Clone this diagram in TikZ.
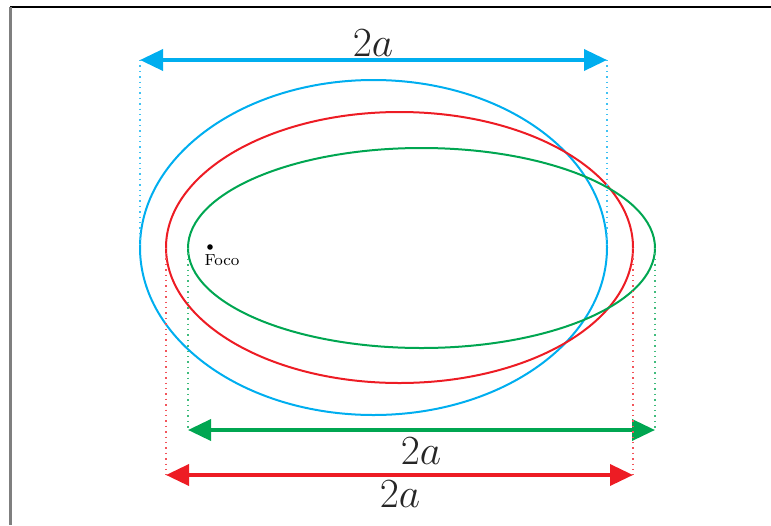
\documentclass[tikz,border=0pt]{standalone}
\usepackage{tikz}
\usetikzlibrary{arrows.meta}
\definecolor{orbblue}{HTML}{00AEEF}
\definecolor{orbred}{HTML}{ED1C24}
\definecolor{orbgreen}{HTML}{00A651}
\definecolor{framegray}{HTML}{7F7F7F}

\begin{document}
\begin{tikzpicture}[
    x=0.5pt, y=-0.5pt,
    orbit/.style={draw=#1, line width=1pt},
    axisarrow/.style={
      {Triangle[length=11.5pt,width=10.5pt]}-{Triangle[length=11.5pt,width=10.5pt]},
      line width=1.8pt, draw=#1, fill=#1
    },
    guide/.style={draw=#1!75, line width=0.7pt, dotted},
    lbl/.style={font=\huge, text=black!85, inner sep=2pt},
  ]
  \useasboundingbox (0,0) rectangle (771,525);

  % =================== Frame ===================
  \draw[black, line width=0.9pt] (10,7) -- (771,7);
  \draw[framegray, line width=1.1pt] (10.5,7) -- (10.5,525);

  % =================== Orbits (common focus) ===================
  \draw[orbit=orbblue]  (373.5,247.5) ellipse [x radius=233.5, y radius=167.5];
  \draw[orbit=orbred]   (399.5,247.5) ellipse [x radius=233.5, y radius=135.5];
  \draw[orbit=orbgreen] (421.5,248)   ellipse [x radius=233.5, y radius=100];

  % Focus
  \fill (210,247) circle [radius=2.8];
  \node[font=\footnotesize, anchor=north, inner sep=1pt] (foco) at (222,252) {Foco};

  % =================== Blue major axis ===================
  \coordinate (b1) at (140,60);
  \coordinate (b2) at (607,60);
  \coordinate (b1e) at (140,247);
  \coordinate (b2e) at (607,247);
  \draw[guide=orbblue] (b1) -- (b1e);
  \draw[guide=orbblue] (b2) -- (b2e);
  \draw[axisarrow=orbblue] (b1) -- (b2);
  \node[lbl] (lblblue) at (373,43) {$2a$};

  % =================== Green major axis ===================
  \coordinate (g1) at (188,430);
  \coordinate (g2) at (655,430);
  \coordinate (g1e) at (188,248);
  \coordinate (g2e) at (655,248);
  \draw[guide=orbgreen] (g1e) -- (g1);
  \draw[guide=orbgreen] (g2e) -- (g2);
  \draw[axisarrow=orbgreen] (g1) -- (g2);
  \node[lbl] (lblgreen) at (421,451) {$2a$};

  % =================== Red major axis ===================
  \coordinate (r1) at (166,475);
  \coordinate (r2) at (633,475);
  \coordinate (r1e) at (166,247.5);
  \coordinate (r2e) at (633,247.5);
  \draw[guide=orbred] (r1e) -- (r1);
  \draw[guide=orbred] (r2e) -- (r2);
  \draw[axisarrow=orbred] (r1) -- (r2);
  \node[lbl] (lblred) at (400,494) {$2a$};

\end{tikzpicture}
\end{document}
